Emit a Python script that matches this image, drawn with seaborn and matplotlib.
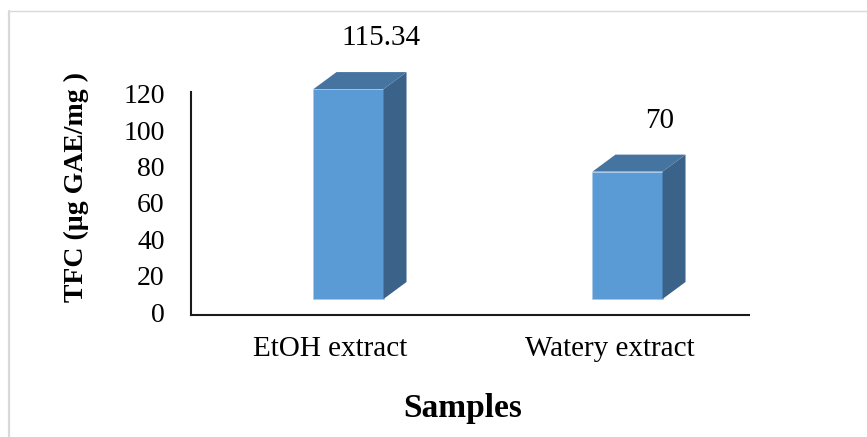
import matplotlib
matplotlib.use("Agg")
import matplotlib.pyplot as plt
import matplotlib.transforms as mtransforms
from matplotlib.patches import Polygon
from matplotlib.lines import Line2D
import seaborn as sns
import pandas as pd

categories = ["EtOH extract", "Watery extract"]
values = [115.34, 70]
value_labels = ["115.34", "70"]
y_ticks = [0, 20, 40, 60, 80, 100, 120]

sns.set_theme(style="white")
plt.rcParams["font.family"] = ["Liberation Serif", "DejaVu Serif"]
plt.rcParams["text.color"] = "black"

W, H, DPI = 867, 437, 100
fig = plt.figure(figsize=(W / DPI, H / DPI), dpi=DPI)
fig.patch.set_facecolor("white")

# axes placement in pixels
ax_l, ax_r, ax_t, ax_b = 191, 749, 92, 315
ax = fig.add_axes([ax_l / W, 1 - ax_b / H, (ax_r - ax_l) / W, (ax_b - ax_t) / H])

px_per_unit_y = 1.82
ymin = -(3 / px_per_unit_y)
ymax = ymin + (ax_b - ax_t) / px_per_unit_y

front_c = "#5B9BD5"
top_c = "#4674A0"
side_c = "#3B6289"

df = pd.DataFrame({"Samples": categories, "TFC": values})
sns.barplot(data=df, x="Samples", y="TFC", color=front_c, width=0.251,
            saturation=1, ax=ax, zorder=3)
ax.set_xlim(-0.5, 1.5)
ax.set_ylim(ymin, ymax)

px_per_unit_x = (ax_r - ax_l) / 2.0
shift = mtransforms.ScaledTranslation(18 / DPI, 13 / DPI, fig.dpi_scale_trans)
tr = ax.transData + shift
ddx = 23 / px_per_unit_x
ddy = 17 / px_per_unit_y

for p in list(ax.patches):
    p.set_transform(tr)
    p.set_clip_on(False)
    p.set_edgecolor("#A9C8E8")
    p.set_linewidth(0.5)
    x0 = p.get_x()
    w = p.get_width()
    h = p.get_height()
    x1 = x0 + w
    side = Polygon([(x1, 0), (x1 + ddx, ddy), (x1 + ddx, h + ddy), (x1, h)],
                   closed=True, facecolor=side_c, edgecolor="none",
                   transform=tr, zorder=3, clip_on=False)
    top = Polygon([(x0, h), (x0 + ddx, h + ddy), (x1 + ddx, h + ddy), (x1, h)],
                  closed=True, facecolor=top_c, edgecolor="none",
                  transform=tr, zorder=3, clip_on=False)
    ax.add_patch(side)
    ax.add_patch(top)

for i, (v, lab) in enumerate(zip(values, value_labels)):
    ax.annotate(lab, xy=(i, v), xytext=(50, 64), textcoords="offset pixels",
                ha="center", va="center", fontsize=21, color="black",
                annotation_clip=False)

ax.set_yticks(y_ticks)
ax.set_yticklabels([str(t) for t in y_ticks])
ax.tick_params(axis="y", length=0, pad=19, labelsize=20, colors="black")
ax.tick_params(axis="x", length=0, pad=15, labelsize=21, colors="black")

for s in ["top", "right"]:
    ax.spines[s].set_visible(False)
for s in ["left", "bottom"]:
    ax.spines[s].set_visible(True)
    ax.spines[s].set_color("#1a1a1a")
    ax.spines[s].set_linewidth(1.5)

ax.set_ylabel("TFC (µg GAE/mg )", fontsize=20, fontweight="bold", va="center",
              color="black")
ax.yaxis.set_label_coords((76 - ax_l) / (ax_r - ax_l), (ax_b - 187) / (ax_b - ax_t))
ax.set_xlabel("Samples", fontsize=24, fontweight="bold", va="center", color="black")
ax.xaxis.set_label_coords((463 - ax_l) / (ax_r - ax_l), (ax_b - 408) / (ax_b - ax_t))

# outer chart border (light grey)
fig.add_artist(Line2D([9 / W, 9 / W], [0, 1 - 11 / H], transform=fig.transFigure,
                      color="#D9D9D9", linewidth=1.6))
fig.add_artist(Line2D([9 / W, 1], [1 - 11 / H, 1 - 11 / H], transform=fig.transFigure,
                      color="#D9D9D9", linewidth=1.0))

fig.savefig("out.png", dpi=DPI, facecolor="white")
